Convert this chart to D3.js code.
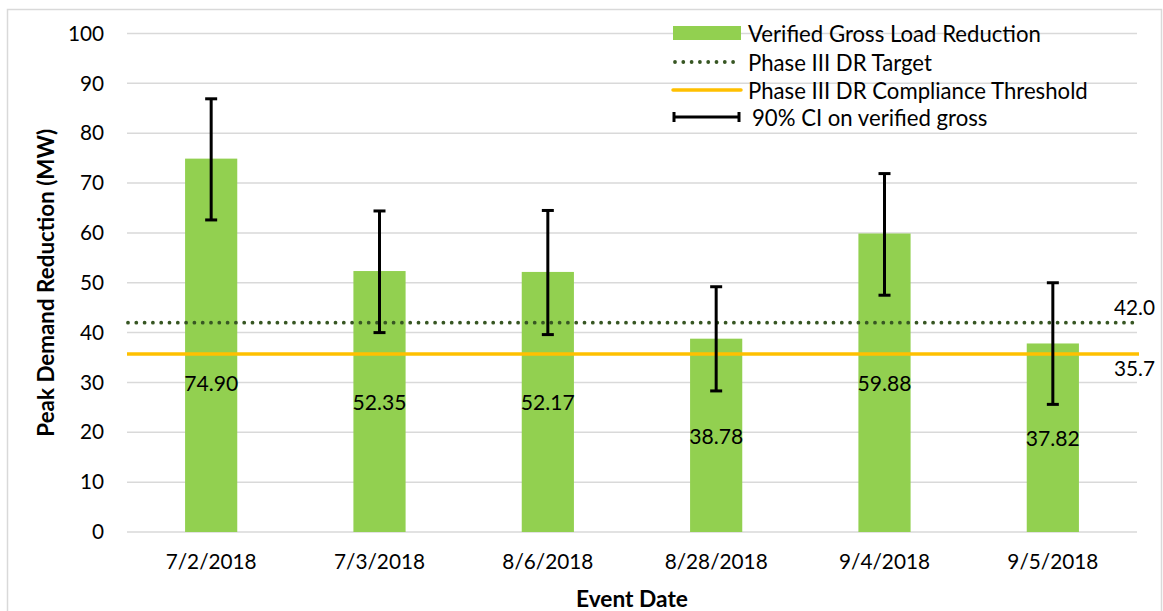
<!DOCTYPE html>
<html>
<head>
<meta charset="utf-8">
<script src="https://cdn.jsdelivr.net/npm/d3@7"></script>
<style>
  html, body { margin: 0; padding: 0; background: #fff; }
  svg { display: block; font-family: Lato, "Open Sans", sans-serif; }
</style>
</head>
<body>
<svg id="chart" width="1163" height="611"></svg>
<script>
// ---- data ----
const categories = ["7/2/2018", "7/3/2018", "8/6/2018", "8/28/2018", "9/4/2018", "9/5/2018"];
const values     = [74.90, 52.35, 52.17, 38.78, 59.88, 37.82];
const ciLow      = [62.6, 40.0, 39.6, 28.3, 47.5, 25.6];
const ciHigh     = [86.9, 64.4, 64.5, 49.2, 71.9, 50.0];
const labelAt    = [29.9, null, null, null, null, null]; // manual label anchor (data units), null = centre of bar
const yTicks     = [0, 10, 20, 30, 40, 50, 60, 70, 80, 90, 100];
const targetValue = 42.0;
const thresholdValue = 35.7;
const legendLabels = ["Verified Gross Load Reduction", "Phase III DR Target", "Phase III DR Compliance Threshold", "90% CI on verified gross"];
const yTitle = "Peak Demand Reduction (MW)";
const xTitle = "Event Date";

// ---- styles ----
const barColor = "#92D050";
const targetColor = "#375623";
const thresholdColor = "#FFC000";
const gridColor = "#d9d9d9";

const svg = d3.select("#chart");

// font size calibration helper
function fitSize(text, target, weight) {
  const t = svg.append("text").attr("font-size", 100).attr("font-weight", weight || "normal").text(text);
  const w = t.node().getComputedTextLength();
  t.remove();
  return 100 * target / w;
}
const fsTick  = fitSize("7/2/2018", 91);
const fsLeg   = fitSize(legendLabels[0], 293);
const fsVal   = fitSize("52.35", 54);
const fsYT    = fitSize(yTitle, 308, "bold");
const fsXT    = fitSize(xTitle, 112, "bold");

// outer border
svg.append("rect").attr("x", 7.5).attr("y", 9.5).attr("width", 1154).attr("height", 640)
  .attr("fill", "none").attr("stroke", gridColor).attr("stroke-width", 1.5);

const x = d3.scaleBand().domain(categories).range([127, 1137]).paddingInner(0.69).paddingOuter(0.345);
const y = d3.scaleLinear().domain([0, 100]).range([532, 33.5]);

// gridlines
svg.append("g").selectAll("line").data(yTicks).join("line")
  .attr("x1", 127).attr("x2", 1137)
  .attr("y1", d => y(d)).attr("y2", d => y(d))
  .attr("stroke", gridColor).attr("stroke-width", 1.5);

// y axis labels
const yAxis = svg.append("g").attr("transform", "translate(104,0)")
  .call(d3.axisLeft(y).tickValues(yTicks).tickSize(0).tickPadding(0));
yAxis.select(".domain").remove();
yAxis.selectAll("text").attr("font-size", fsTick).attr("fill", "#000").attr("font-family", "Lato, sans-serif");

// x axis labels
const xAxis = svg.append("g").attr("transform", `translate(0,${y(0)})`)
  .call(d3.axisBottom(x).tickSize(0).tickPadding(22));
xAxis.select(".domain").remove();
xAxis.selectAll("text").attr("font-size", fsTick).attr("fill", "#000").attr("font-family", "Lato, sans-serif");

// bars
svg.append("g").selectAll("rect").data(values).join("rect")
  .attr("x", (d, i) => x(categories[i]))
  .attr("width", x.bandwidth())
  .attr("y", d => y(d))
  .attr("height", d => y(0) - y(d))
  .attr("fill", barColor);

// target line (dotted)
svg.append("line").attr("x1", 128).attr("x2", 1137)
  .attr("y1", y(targetValue)).attr("y2", y(targetValue))
  .attr("stroke", targetColor).attr("stroke-width", 3.8)
  .attr("stroke-linecap", "round").attr("stroke-dasharray", "0 8.3");

// threshold line
svg.append("line").attr("x1", 127).attr("x2", 1139)
  .attr("y1", y(thresholdValue)).attr("y2", y(thresholdValue))
  .attr("stroke", thresholdColor).attr("stroke-width", 3.5);

// reference labels
svg.append("text").attr("x", 1155).attr("y", y(targetValue) - 16).attr("text-anchor", "end")
  .attr("dominant-baseline", "central").attr("font-size", fsTick).text(targetValue.toFixed(1));
svg.append("text").attr("x", 1155).attr("y", y(thresholdValue) + 14).attr("text-anchor", "end")
  .attr("dominant-baseline", "central").attr("font-size", fsTick).text(thresholdValue.toFixed(1));

// error bars
const eb = svg.append("g").attr("stroke", "#000").attr("stroke-width", 3);
categories.forEach((c, i) => {
  const cx = x(c) + x.bandwidth() / 2;
  eb.append("line").attr("x1", cx).attr("x2", cx).attr("y1", y(ciLow[i])).attr("y2", y(ciHigh[i]));
  eb.append("line").attr("x1", cx - 6).attr("x2", cx + 6).attr("y1", y(ciLow[i])).attr("y2", y(ciLow[i]));
  eb.append("line").attr("x1", cx - 6).attr("x2", cx + 6).attr("y1", y(ciHigh[i])).attr("y2", y(ciHigh[i]));
});

// value labels
svg.append("g").selectAll("text").data(values).join("text")
  .attr("x", (d, i) => x(categories[i]) + x.bandwidth() / 2)
  .attr("y", (d, i) => y(labelAt[i] != null ? labelAt[i] : d / 2))
  .attr("text-anchor", "middle").attr("dominant-baseline", "central")
  .attr("font-size", fsVal).attr("fill", "#000")
  .text(d => d.toFixed(2));

// axis titles
svg.append("text").attr("transform", `translate(45,${(y(0) + y(100)) / 2}) rotate(-90)`)
  .attr("text-anchor", "middle").attr("dominant-baseline", "central")
  .attr("font-weight", "bold").attr("font-size", fsYT).text(yTitle);
svg.append("text").attr("x", (127 + 1137) / 2).attr("y", 598)
  .attr("text-anchor", "middle").attr("dominant-baseline", "central")
  .attr("font-weight", "bold").attr("font-size", fsXT).text(xTitle);

// legend
const lg = svg.append("g");
const lx0 = 673, lx1 = 741, ltx = 748;
const rows = [33, 62, 90, 117];
lg.append("rect").attr("x", lx0).attr("y", rows[0] - 7).attr("width", lx1 - lx0).attr("height", 14).attr("fill", barColor);
lg.append("line").attr("x1", lx0 + 2).attr("x2", lx1).attr("y1", rows[1]).attr("y2", rows[1])
  .attr("stroke", targetColor).attr("stroke-width", 3.8).attr("stroke-linecap", "round").attr("stroke-dasharray", "0 8.3");
lg.append("line").attr("x1", lx0).attr("x2", lx1).attr("y1", rows[2]).attr("y2", rows[2])
  .attr("stroke", thresholdColor).attr("stroke-width", 3.5).attr("stroke-linecap", "round");
lg.append("line").attr("x1", lx0).attr("x2", lx1 - 1).attr("y1", rows[3]).attr("y2", rows[3]).attr("stroke", "#000").attr("stroke-width", 3);
lg.append("line").attr("x1", lx0 + 1).attr("x2", lx0 + 1).attr("y1", rows[3] - 5).attr("y2", rows[3] + 5).attr("stroke", "#000").attr("stroke-width", 3);
lg.append("line").attr("x1", lx1 - 2).attr("x2", lx1 - 2).attr("y1", rows[3] - 5).attr("y2", rows[3] + 5).attr("stroke", "#000").attr("stroke-width", 3);
lg.selectAll("text.lt").data(legendLabels).join("text").attr("class", "lt")
  .attr("x", (d, i) => i === 3 ? ltx + 4 : ltx)
  .attr("y", (d, i) => rows[i])
  .attr("dominant-baseline", "central")
  .attr("font-size", fsLeg).attr("fill", "#000")
  .text(d => d);
</script>
</body>
</html>
